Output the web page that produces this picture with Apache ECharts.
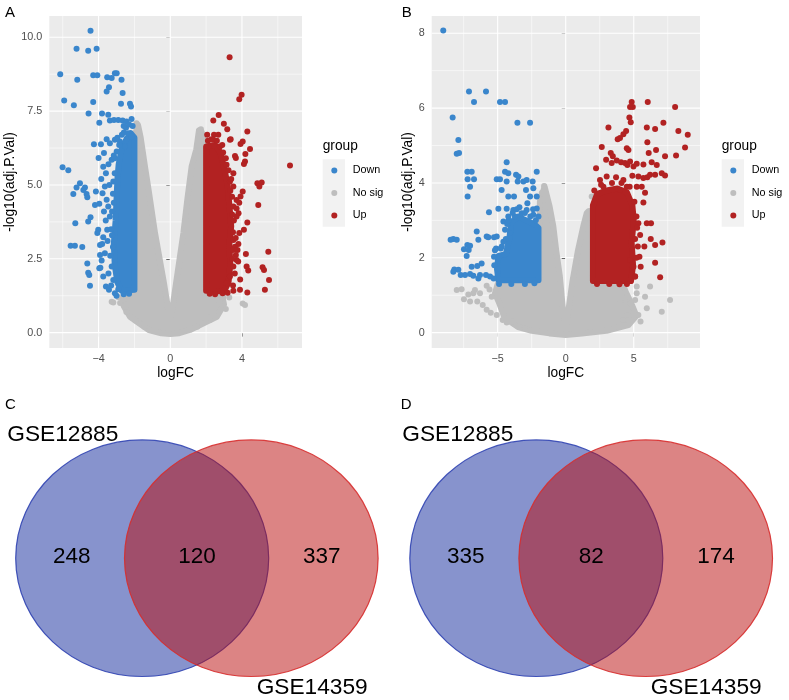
<!DOCTYPE html>
<html><head><meta charset="utf-8">
<script src="https://cdn.jsdelivr.net/npm/echarts@6/dist/echarts.min.js"></script>
<style>html,body{margin:0;padding:0;background:#fff}#c{width:789px;height:700px}</style>
</head><body><div id="c"></div>
<script>
// ---------- DATA ----------
const groupNames = ['Down', 'No sig', 'Up'];
const groupColors = ['#3A86CC', '#BEBEBE', '#B22222'];

// Panel A (volcano) tick values
const aXTicks = [-4, 0, 4];
const aXMinor = [-6, -2, 2, 6];
const aYTicks = [0, 2.5, 5, 7.5, 10];
const aYMinor = [1.25, 3.75, 6.25, 8.75];
// Panel B tick values
const bXTicks = [-5, 0, 5];
const bXMinor = [-7.5, -2.5, 2.5, 7.5];
const bYTicks = [0, 2, 4, 6, 8];
const bYMinor = [1, 3, 5, 7];

// Panel A points [logFC, -log10(adj.P.Val)]
const aDown = [[-4.45,10.22],[-5.23,9.61],[-4.58,9.54],[-4.11,9.61],[-6.14,8.75],[-5.19,8.56],[-4.30,8.71],[-4.07,8.71],
[-3.52,8.65],[-3.09,8.78],[-3.27,8.62],[-2.99,8.78],[-2.72,8.56],[-3.42,8.31],[-3.55,8.16],[-2.66,8.11],[-5.92,7.86],
[-5.38,7.70],[-4.30,7.81],[-2.75,7.75],[-2.25,7.75],[-2.19,7.66],[-4.56,7.42],[-3.81,7.42],[-3.46,7.38],[-3.37,7.18],
[-3.14,7.20],[-2.90,7.20],[-2.66,7.18],[-2.44,7.15],[-3.96,7.11],[-2.16,7.23],[-2.47,6.94],[-2.59,6.78],[-2.33,6.75],
[-2.16,6.64],[-4.26,6.38],[-3.87,6.38],[-3.55,6.55],[-3.37,6.41],[-3.09,6.53],[-2.81,6.47],[-4.00,5.91],[-3.70,6.08],
[-6.01,5.60],[-5.69,5.50],[-5.04,5.06],[-5.23,4.91],[-5.41,4.69],[-4.76,4.91],[-4.67,4.69],[-4.63,4.58],[-4.85,4.83],
[-4.15,4.78],[-3.96,4.36],[-4.20,4.32],[-3.78,4.72],[-3.65,4.95],[-3.59,5.40],[-3.74,5.62],[-5.30,3.70],[-4.58,3.76],
[-4.45,3.91],[-4.02,3.48],[-4.07,3.37],[-5.56,2.94],[-5.32,2.94],[-4.91,2.90],[-3.92,2.63],[-3.83,2.44],[-3.96,2.18],
[-4.63,2.34],[-4.58,2.03],[-4.52,1.95],[-4.48,1.59],[-3.74,1.90],[-3.59,1.56],[-3.42,1.45],[-3.09,1.33],[-2.90,1.47],
[-3.92,2.97],[-3.74,3.23],[-3.52,3.48],[-3.37,3.93],[-3.46,4.27],[-3.18,1.78],[-3.27,2.24],[-3.65,2.69],[-3.18,5.12],
[-3.27,5.85],[-2.99,6.13],[-2.53,6.30],
[-3.3,1.6],[-3.45,2.0],[-3.35,2.6],[-3.5,3.1],[-3.3,3.5],[-3.6,3.8],[-3.25,4.1],[-3.55,4.5],[-3.2,4.7],[-3.4,5.0],
[-3.1,5.4],[-3.45,5.7],[-3.15,6.0],[-2.95,6.6],[-2.7,6.7],[-2.6,7.0],[-2.3,7.05],[-2.1,7.0],[-3.0,1.25],[-2.6,1.3],
[-2.3,1.32],[-3.8,3.0],[-3.7,4.1],[-3.85,5.2],[-3.9,2.2],[-3.2,2.9],[-3.25,3.3],[-3.15,4.4],[-3.1,5.9],[-2.85,6.35]];
const aDownCore = [[-2.0,1.45],[-2.72,1.42],[-2.95,1.7],[-3.1,2.3],[-3.15,3.0],[-3.05,3.8],[-3.0,4.5],[-2.95,5.2],
[-2.88,5.7],[-2.72,6.2],[-2.45,6.55],[-2.2,6.75],[-2.0,6.6]];
const aNoSig = [[-3.18,1.02],[-3.27,1.05],[3.29,1.19],[4.04,0.99],[4.17,0.94],[1.71,6.89],[1.62,6.83],[-1.88,7.09],
[-1.97,7.0],[-2.44,1.22],[-2.62,1.11],[2.77,1.05],[2.21,0.43],[2.12,0.5],[-2.8,1.0],[-2.45,0.7],[-1.95,0.42],
[-1.45,0.2],[1.5,0.2],[2.45,0.7],[2.95,1.2],[3.1,0.8],[-2.9,1.2]];
const aNoSigCore = [[-1.8,7.03],[-1.97,6.7],[-1.97,1.5],[-2.4,1.35],[-2.65,1.15],[-2.6,0.9],[-2.25,0.54],[-1.7,0.3],
[-1.2,0.09],[-0.5,-0.02],[0,-0.05],[0.5,-0.02],[1.1,0.09],[1.8,0.3],[2.6,0.54],[3.0,0.95],[2.9,1.25],[2.4,1.35],
[1.97,1.5],[1.97,6.2],[1.75,6.8],[1.6,6.85],[1.45,6.2],[1.19,5.62],[0.95,4.5],[0.73,3.37],[0.32,1.67],[0.08,0.66],
[0,0.55],[-0.08,0.66],[-0.35,1.67],[-0.85,3.37],[-1.2,4.8],[-1.41,5.62],[-1.65,6.6]];
const aUp = [[3.31,9.32],[3.98,8.05],[3.85,7.90],[2.70,7.37],[2.40,7.18],[2.99,7.07],[3.18,6.89],[2.06,6.70],[2.44,6.70],
[2.68,6.70],[4.30,6.81],[3.37,6.55],[3.92,6.39],[4.04,6.47],[4.45,6.22],[6.68,5.66],[4.19,6.05],[4.17,5.79],[4.11,5.71],
[3.61,5.98],[3.66,5.91],[3.14,5.68],[4.86,5.06],[5.10,5.08],[4.97,4.95],[4.91,4.32],[4.04,4.78],[3.92,4.61],[3.81,4.04],
[3.70,3.93],[4.30,3.73],[4.11,3.48],[3.85,3.37],[5.47,2.74],[4.22,2.66],[3.66,2.63],[4.26,2.24],[4.35,2.10],[5.15,2.21],
[5.23,2.12],[5.51,1.78],[5.28,1.45],[4.30,1.36],[3.89,1.45],[3.52,1.42],[2.92,1.33],[3.70,2.46],[3.79,2.41],[3.52,2.24],
[3.52,5.40],[3.33,5.12],[3.52,4.95],[3.70,4.49],[3.52,4.27],[3.33,6.53],[2.77,6.30],[2.40,6.53],[2.12,6.30],[3.52,3.14],
[3.61,2.91],[3.33,1.90],[3.14,1.67],
[3.5,1.6],[3.6,2.0],[3.5,2.8],[3.65,3.2],[3.55,3.8],[3.7,4.2],[3.45,4.6],[3.4,5.2],[3.25,5.5],[3.1,5.9],[2.9,6.35],
[2.6,6.5],[2.3,6.55],[2.1,6.5],[3.2,1.35],[2.5,1.3],[2.2,1.32],[3.8,3.0],[3.9,1.8],[3.75,2.8],[3.85,4.4],[3.45,2.5],
[3.5,3.4],[3.45,4.0],[3.35,4.8],[2.95,6.1]];
const aUpCore = [[2.0,1.42],[3.0,1.4],[3.25,1.7],[3.35,2.3],[3.3,3.0],[3.4,3.6],[3.3,4.3],[3.2,5.0],[3.0,5.6],[2.8,6.1],
[2.5,6.35],[2.0,6.3]];

// Panel B points
const bDown = [[-9.00,8.07],[-7.11,6.44],[-5.86,6.44],[-6.74,6.16],[-4.83,6.16],[-4.46,6.16],[-3.55,5.61],[-2.62,5.61],
[-8.31,5.75],[-7.89,5.15],[-8.01,4.78],[-7.84,4.80],[-7.23,4.30],[-6.91,4.30],[-7.21,4.10],[-6.74,4.10],[-7.03,3.90],
[-7.21,3.64],[-5.64,3.22],[-8.26,2.50],[-8.01,2.48],[-8.46,2.48],[-6.54,2.70],[-6.42,2.48],[-5.81,2.57],[-7.23,2.34],
[-7.03,2.32],[-7.48,2.23],[-7.13,2.21],[-7.28,2.05],[-6.18,1.85],[-5.27,2.55],[-5.12,2.25],[-4.78,2.25],[-8.19,1.69],
[-7.89,1.68],[-8.26,1.63],[-7.72,1.54],[-7.40,1.54],[-7.03,1.57],[-6.79,1.52],[-6.30,1.54],[-5.86,1.54],[-5.56,1.50],
[-6.42,1.45],[-6.91,1.76],[-6.50,1.78],[-4.34,4.55],[-5.07,4.10],[-4.83,4.10],[-4.46,4.30],[-4.22,4.26],[-4.34,4.04],
[-3.65,4.22],[-3.48,4.17],[-3.53,4.04],[-3.11,4.04],[-2.87,4.08],[-2.43,4.04],[-2.38,3.86],[-2.13,4.30],[-4.71,3.81],
[-4.22,3.64],[-3.80,3.64],[-2.92,3.81],[-2.62,3.64],[-2.82,3.46],[-4.95,3.31],[-4.34,3.31],[-3.85,3.28],[-4.22,3.10],
[-3.73,3.10],[-3.24,3.19],[-2.87,3.28],[-2.13,3.64],[-2.13,3.32],[-2.38,3.15],[-5.69,2.55],[-5.07,2.57],[-4.46,2.75],
[-4.58,2.97],[-4.09,2.66],[-5.27,2.03],[-4.58,2.43],
[-5.3,1.45],[-5.25,1.8],[-5.2,2.2],[-4.7,2.3],[-4.4,2.5],[-4.3,2.9],[-3.9,3.2],[-3.4,3.35],[-3.0,3.2],[-2.6,3.1],
[-2.2,3.0],[-2.0,3.1],[-4.0,1.3],[-3.0,1.3],[-2.3,1.32],[-4.9,1.3],[-4.2,3.0],[-3.6,3.3],[-2.4,3.3]];
const bDownCore = [[-2.0,1.4],[-4.95,1.4],[-5.05,1.7],[-4.95,2.05],[-4.4,2.1],[-4.15,2.5],[-4.0,2.95],[-3.5,3.1],
[-2.9,3.0],[-2.3,2.9],[-2.0,2.8]];
const bNoSig = [[-8.01,1.14],[-7.65,1.16],[-7.16,1.02],[-7.48,0.89],[-7.03,0.83],[-6.50,0.83],[-6.10,0.74],[-5.81,0.61],
[-5.51,0.53],[-5.07,0.47],[-4.63,0.34],[-4.34,0.27],[-5.81,1.25],[-6.79,1.05],[-6.30,1.05],[-5.12,1.07],[-5.44,0.96],
[-6.67,1.14],[-1.59,3.92],[-1.76,3.73],[-1.69,3.55],[1.91,3.64],[7.67,0.87],[7.06,0.56],[5.96,0.65],[5.83,0.96],
[6.20,1.23],[5.22,1.23],[5.10,0.87],[5.34,0.47],[4.78,0.78],[4.53,0.47],[4.24,0.34],[4.49,0.96],[4.00,0.83],[5.22,1.05],
[-3.9,0.3],[-3.0,0.12],[3.6,0.15],[5.5,0.3],[-5.6,1.15]];
const bNoSigCore = [[-1.55,3.9],[-1.9,3.5],[-1.9,1.45],[-2.5,1.35],[-4.0,1.35],[-5.0,1.3],[-5.2,1.05],[-4.9,0.8],
[-4.5,0.4],[-3.5,0.15],[-2.5,0.05],[-1.2,-0.02],[0,-0.06],[1.2,-0.02],[3.0,0.05],[4.6,0.2],[5.2,0.45],[4.8,0.8],
[4.4,1.1],[4.2,1.3],[3.5,1.33],[1.95,1.35],[1.95,3.0],[1.7,3.25],[1.55,3.2],[1.29,2.84],[0.9,2.2],[0.5,1.38],
[0.2,0.6],[0.05,0.2],[-0.05,0.2],[-0.2,0.6],[-0.43,1.5],[-0.7,2.2],[-0.91,2.84],[-1.2,3.4]];
const bUp = [[4.85,6.16],[4.93,6.03],[4.73,6.03],[6.03,6.16],[8.04,6.03],[4.68,5.75],[4.78,5.62],[7.18,5.61],[6.57,5.44],
[5.96,5.48],[3.14,5.48],[8.28,5.39],[8.97,5.29],[4.44,5.39],[4.24,5.30],[3.99,5.20],[3.82,5.17],[6.00,5.09],[8.77,4.95],
[2.65,4.96],[4.61,4.88],[4.49,4.93],[6.64,4.88],[6.10,4.80],[8.11,4.73],[7.30,4.71],[3.31,4.80],[3.46,4.71],[5.22,4.51],
[5.71,4.49],[6.32,4.55],[6.69,4.48],[4.98,4.44],[2.97,4.62],[3.38,4.53],[3.75,4.60],[4.07,4.55],[4.36,4.53],[4.53,4.48],
[4.73,4.57],[4.90,4.19],[5.34,4.17],[5.71,4.13],[6.00,4.15],[6.20,4.22],[6.57,4.22],[7.06,4.26],[7.30,4.20],[2.23,4.39],
[5.22,3.90],[5.59,3.90],[5.83,3.74],[5.71,3.48],[5.34,2.92],[5.96,2.92],[6.27,2.92],[5.47,2.61],[6.25,2.50],[5.78,2.30],
[6.57,2.34],[7.11,2.41],[5.42,2.03],[4.73,1.94],[4.98,1.76],[5.51,1.76],[5.10,1.50],[6.57,1.87],[6.94,1.48],[3.95,1.29],
[2.52,4.08],[3.01,4.17],[2.77,3.90],[4.24,4.08],[4.49,3.90],[3.99,3.81],
[5.1,1.5],[5.2,2.0],[5.1,2.5],[5.2,3.1],[5.05,3.5],[4.7,3.9],[4.1,4.0],[3.4,4.0],[2.6,3.95],[2.1,3.8],[2.3,1.3],
[3.2,1.3],[4.5,1.3],[5.3,2.3],[5.25,2.8],[3.7,4.15]];
const bUpCore = [[2.0,1.38],[4.8,1.38],[4.95,1.8],[4.85,2.4],[5.0,3.0],[4.9,3.4],[4.5,3.75],[3.8,3.85],[3.0,3.8],
[2.3,3.7],[2.0,3.4]];

// Venn diagrams
const vennSets = ['GSE12885', 'GSE14359'];
const vennC = [248, 120, 337];
const vennD = [335, 82, 174];
const panelLetters = ['A', 'B', 'C', 'D'];

// ---------- CHART ----------
const FONT = '"Liberation Sans", Arial, Helvetica, sans-serif';
const chart = echarts.init(document.getElementById('c'), null, {renderer: 'canvas'});
const minus = v => String(v).replace('-', '\u2212');

function gridLines(idx, xMaj, xMin, yMaj, yMin) {
  const data = [];
  xMin.forEach(v => data.push([v, 0, 0]));
  yMin.forEach(v => data.push([v, 1, 0]));
  xMaj.forEach(v => data.push([v, 0, 1]));
  yMaj.forEach(v => data.push([v, 1, 1]));
  return {
    type: 'custom', xAxisIndex: idx, yAxisIndex: idx, z: 1, silent: true, data,
    renderItem(params, api) {
      const cs = params.coordSys;
      const v = api.value(0), o = api.value(1), maj = api.value(2);
      let shape;
      if (o === 0) { const x = api.coord([v, 0])[0]; shape = {x1: x, y1: cs.y, x2: x, y2: cs.y + cs.height}; }
      else { const y = api.coord([0, v])[1]; shape = {x1: cs.x, y1: y, x2: cs.x + cs.width, y2: y}; }
      return {type: 'line', shape, style: {stroke: '#FFFFFF', lineWidth: maj ? 1.1 : 0.55}};
    }
  };
}
function core(idx, pts, color, z) {
  return {
    type: 'custom', xAxisIndex: idx, yAxisIndex: idx, z, silent: true, clip: true, data: pts,
    renderItem(params, api) {
      if (params.dataIndex !== 0) return null;
      return {type: 'polygon', shape: {points: pts.map(p => api.coord(p))},
        style: {fill: color, stroke: color, lineWidth: 6, lineJoin: 'round'}};
    }
  };
}
function pts(idx, data, gi, z) {
  return {type: 'scatter', name: groupNames[gi], xAxisIndex: idx, yAxisIndex: idx, z, silent: true,
    symbolSize: 6, data, itemStyle: {color: groupColors[gi], opacity: 1}};
}
function xAxis(idx, min, max, ticks) {
  return {type: 'value', gridIndex: idx, min, max, name: 'logFC', nameLocation: 'middle', nameGap: 18,
    nameTextStyle: {fontFamily: FONT, fontSize: 13.75, color: '#000'},
    axisLine: {show: false}, splitLine: {show: false},
    axisTick: {show: true, length: 4, lineStyle: {color: '#333333', width: 1}, customValues: ticks},
    axisLabel: {customValues: ticks, formatter: v => minus(v), fontFamily: FONT, fontSize: 10.8, color: '#4D4D4D', margin: 6}};
}
function yAxis(idx, min, max, ticks, fmt, gap) {
  return {type: 'value', gridIndex: idx, min, max, name: '-log10(adj.P.Val)', nameLocation: 'middle', nameGap: gap,
    nameTextStyle: {fontFamily: FONT, fontSize: 13.75, color: '#000'},
    axisLine: {show: false}, splitLine: {show: false},
    axisTick: {show: true, length: 4, lineStyle: {color: '#333333', width: 1}, customValues: ticks},
    axisLabel: {customValues: ticks, formatter: fmt, fontFamily: FONT, fontSize: 10.8, color: '#4D4D4D', margin: 7}};
}

function legend(x0, title) {
  const els = [{type: 'text', style: {text: title, x: x0, y: 146, font: '13.75px ' + FONT, fill: '#000', verticalAlign: 'middle'}},
    {type: 'rect', shape: {x: x0, y: 159.3, width: 22.3, height: 67.4}, style: {fill: '#F2F2F2'}}];
  groupNames.forEach((g, i) => {
    const cy = 170.5 + i * 22.5;
    els.push({type: 'circle', shape: {cx: x0 + 11.6, cy, r: 3}, style: {fill: groupColors[i]}});
    els.push({type: 'text', style: {text: g, x: x0 + 30, y: cy, font: '10.8px ' + FONT, fill: '#000', verticalAlign: 'middle'}});
  });
  return els;
}
function venn(bx, rx0, counts, s1x, s2x) {
  const cy = 558.2;
  return [
    {type: 'ellipse', shape: {cx: bx, cy, rx: 126.5, ry: 118.3},
      style: {fill: 'rgba(16,40,155,0.5)', stroke: 'rgba(40,60,175,0.85)', lineWidth: 1.2}},
    {type: 'ellipse', shape: {cx: rx0, cy, rx: 126.8, ry: 118.3},
      style: {fill: 'rgba(185,10,10,0.5)', stroke: 'rgba(215,45,45,0.9)', lineWidth: 1.2}},
    {type: 'text', style: {text: String(counts[0]), x: bx - 70.5, y: 557, font: '22.5px ' + FONT, fill: '#000', align: 'center', verticalAlign: 'middle'}},
    {type: 'text', style: {text: String(counts[1]), x: (bx + rx0) / 2 + 0.2, y: 557, font: '22.5px ' + FONT, fill: '#000', align: 'center', verticalAlign: 'middle'}},
    {type: 'text', style: {text: String(counts[2]), x: rx0 + 70.4, y: 557, font: '22.5px ' + FONT, fill: '#000', align: 'center', verticalAlign: 'middle'}},
    {type: 'text', style: {text: vennSets[0], x: s1x, y: 435, font: '22.7px ' + FONT, fill: '#000', verticalAlign: 'middle'}},
    {type: 'text', style: {text: vennSets[1], x: s2x, y: 688, font: '22.7px ' + FONT, fill: '#000', verticalAlign: 'middle'}}
  ];
}
const letters = [[5, 12.7], [401.7, 12.7], [5, 405], [400.7, 405]].map((p, i) => ({type: 'text',
  style: {text: panelLetters[i], x: p[0], y: p[1], font: '15px ' + FONT, fill: '#000', verticalAlign: 'middle'}}));

const option = {
  animation: false,
  backgroundColor: '#FFFFFF',
  grid: [
    {left: 49.3, top: 16, width: 252.7, height: 332, show: true, backgroundColor: '#EBEBEB', borderWidth: 0, outerBoundsMode: 'none'},
    {left: 431.7, top: 16, width: 268.3, height: 332, show: true, backgroundColor: '#EBEBEB', borderWidth: 0, outerBoundsMode: 'none'}
  ],
  xAxis: [xAxis(0, -6.75, 7.35, aXTicks), xAxis(1, -9.85, 9.87, bXTicks)],
  yAxis: [yAxis(0, -0.52, 10.72, aYTicks, v => v.toFixed(1), 28), yAxis(1, -0.41, 8.46, bYTicks, v => String(v), 15)],
  series: [
    gridLines(0, aXTicks, aXMinor, aYTicks, aYMinor),
    gridLines(1, bXTicks, bXMinor, bYTicks, bYMinor),
    core(0, aNoSigCore, groupColors[1], 2), pts(0, aNoSig, 1, 2),
    core(0, aDownCore, groupColors[0], 3), pts(0, aDown, 0, 3),
    core(0, aUpCore, groupColors[2], 3), pts(0, aUp, 2, 3),
    core(1, bNoSigCore, groupColors[1], 2), pts(1, bNoSig, 1, 2),
    core(1, bDownCore, groupColors[0], 3), pts(1, bDown, 0, 3),
    core(1, bUpCore, groupColors[2], 3), pts(1, bUp, 2, 3)
  ],
  graphic: [].concat(letters, legend(322.7, 'group'), legend(721.7, 'group'),
    venn(142.2, 251.3, vennC, 7.3, 256.7), venn(536.3, 645.7, vennD, 402.3, 650.7))
};
chart.setOption(option);
</script></body></html>
